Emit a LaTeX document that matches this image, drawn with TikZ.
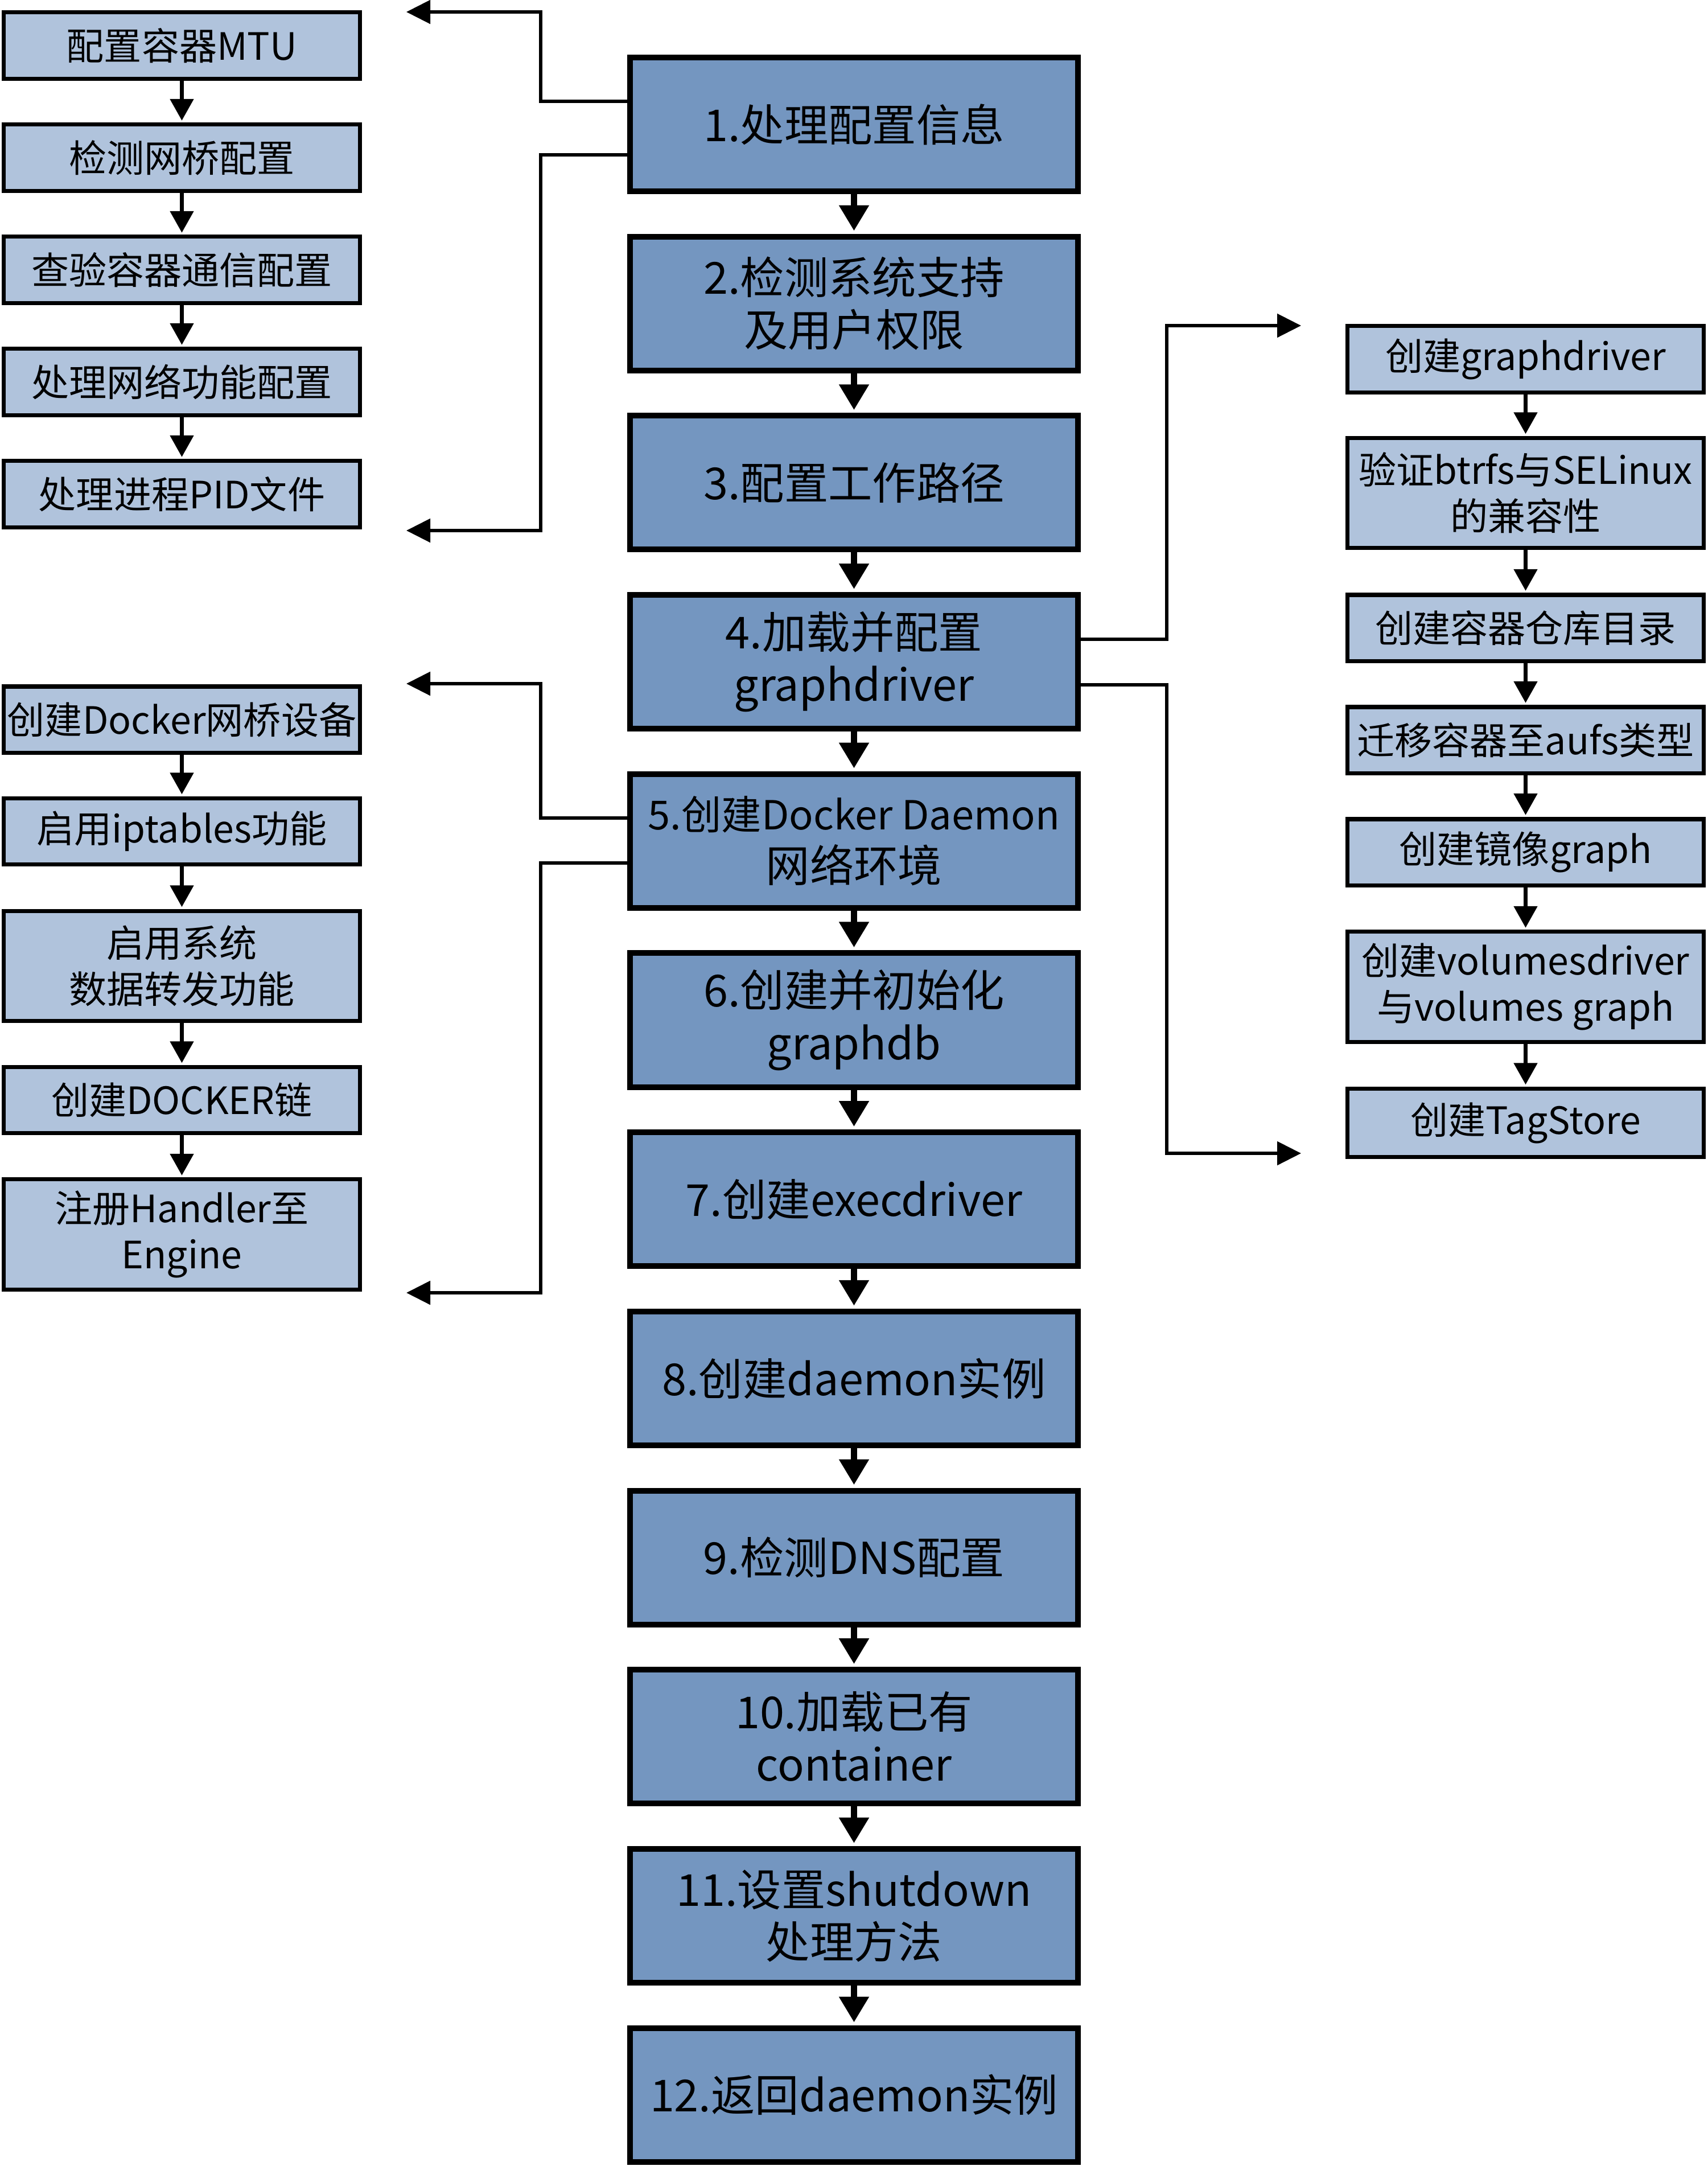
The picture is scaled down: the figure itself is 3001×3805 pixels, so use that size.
\documentclass[tikz,border=0pt]{standalone}
\usepackage{fontspec}
\setmainfont{Noto Sans CJK SC}
\usetikzlibrary{arrows.meta}
\definecolor{mainfill}{RGB}{116,150,192}
\definecolor{subfill}{RGB}{176,195,220}
\begin{document}
\begin{tikzpicture}[x=0.01cm,y=-0.01cm,
  mainbox/.style={draw=black, line width=2.85pt, fill=mainfill, minimum width=7.87cm, minimum height=2.35cm, align=center, font=\fontsize{22}{26.2}\selectfont, inner sep=0pt},
  subbox/.style={draw=black, line width=2pt, fill=subfill, minimum width=6.26cm, align=center, font=\fontsize{18.8}{23}\selectfont, inner sep=0pt},
  shortbox/.style={minimum height=1.16cm},
  tallbox/.style={minimum height=1.93cm},
  mainarrow/.style={line width=3.3pt, -{Triangle[length=0.45cm,width=0.5cm]}, shorten >=0.05cm},
  subarrow/.style={line width=2.2pt, -{Triangle[length=0.38cm,width=0.4cm]}, shorten >=0.035cm},
  conn/.style={line width=1.6pt, -{Triangle[length=0.42cm,width=0.41cm]}}
]
\useasboundingbox (0,0) rectangle (3001,3805);

% main column
\node[mainbox] (m1)  at (1500.5,218.5)  {1.处理配置信息};
\node[mainbox] (m2)  at (1500.5,533.2)  {2.检测系统支持\\及用户权限};
\node[mainbox] (m3)  at (1500.5,847.9)  {3.配置工作路径};
\node[mainbox] (m4)  at (1500.5,1162.6) {4.加载并配置\\graphdriver};
\node[mainbox, font=\fontsize{20}{26.2}\selectfont] (m5)  at (1500.5,1477.3) {5.创建Docker Daemon\\{\fontsize{22}{26.2}\selectfont 网络环境}};
\node[mainbox] (m6)  at (1500.5,1792.0) {6.创建并初始化\\graphdb};
\node[mainbox] (m7)  at (1500.5,2106.7) {7.创建execdriver};
\node[mainbox] (m8)  at (1500.5,2421.4) {8.创建daemon实例};
\node[mainbox] (m9)  at (1500.5,2736.1) {9.检测DNS配置};
\node[mainbox] (m10) at (1500.5,3050.8) {10.加载已有\\container};
\node[mainbox] (m11) at (1500.5,3365.5) {11.设置shutdown\\处理方法};
\node[mainbox] (m12) at (1500.5,3680.2) {12.返回daemon实例};
\foreach \a/\b in {m1/m2,m2/m3,m3/m4,m4/m5,m5/m6,m6/m7,m7/m8,m8/m9,m9/m10,m10/m11,m11/m12}
  \draw[mainarrow] (\a.south) -- (\b.north);

% left group 1
\node[subbox,shortbox] (a1) at (319.5,80)  {配置容器MTU};
\node[subbox,shortbox] (a2) at (319.5,277) {检测网桥配置};
\node[subbox,shortbox] (a3) at (319.5,474) {查验容器通信配置};
\node[subbox,shortbox] (a4) at (319.5,671) {处理网络功能配置};
\node[subbox,shortbox] (a5) at (319.5,868) {处理进程PID文件};
\foreach \a/\b in {a1/a2,a2/a3,a3/a4,a4/a5}
  \draw[subarrow] (\a.south) -- (\b.north);

% left group 2
\node[subbox,shortbox] (b1) at (319.5,1264)   {创建Docker网桥设备};
\node[subbox,shortbox] (b2) at (319.5,1460.5) {启用iptables功能};
\node[subbox,tallbox]  (b3) at (319.5,1697)   {启用系统\\数据转发功能};
\node[subbox,shortbox] (b4) at (319.5,1932.5) {创建DOCKER链};
\node[subbox,tallbox]  (b5) at (319.5,2168.5) {注册Handler至\\Engine};
\foreach \a/\b in {b1/b2,b2/b3,b3/b4,b4/b5}
  \draw[subarrow] (\a.south) -- (\b.north);

% right group
\node[subbox,shortbox] (c1) at (2680.5,631)    {创建graphdriver};
\node[subbox,tallbox]  (c2) at (2680.5,866)    {验证btrfs与SELinux\\的兼容性};
\node[subbox,shortbox] (c3) at (2680.5,1103)   {创建容器仓库目录};
\node[subbox,shortbox] (c4) at (2680.5,1300)   {迁移容器至aufs类型};
\node[subbox,shortbox] (c5) at (2680.5,1497)   {创建镜像graph};
\node[subbox,tallbox]  (c6) at (2680.5,1733.5) {创建volumesdriver\\与volumes graph};
\node[subbox,shortbox,minimum height=1.2cm] (c7) at (2680.5,1972.5) {创建TagStore};
\foreach \a/\b in {c1/c2,c2/c3,c3/c4,c4/c5,c5/c6,c6/c7}
  \draw[subarrow] (\a.south) -- (\b.north);

% bracket connectors
\coordinate (busL) at (950,0);
\coordinate (busR) at (2050,0);
\coordinate (h1) at (0,178);
\coordinate (h2) at (0,272);
\coordinate (h3) at (0,1437);
\coordinate (h4) at (0,1516);
\coordinate (h5) at (0,1123);
\coordinate (h6) at (0,1203);
\coordinate (t1) at (714,21);
\coordinate (t2) at (714,932);
\coordinate (t3) at (714,1201);
\coordinate (t4) at (714,2271);
\coordinate (t5) at (2286,572);
\coordinate (t6) at (2286,2026);

\draw[conn] (m1.west |- h1) -| (busL |- t1) -- (t1);
\draw[conn] (m1.west |- h2) -| (busL |- t2) -- (t2);
\draw[conn] (m5.west |- h3) -| (busL |- t3) -- (t3);
\draw[conn] (m5.west |- h4) -| (busL |- t4) -- (t4);
\draw[conn] (m4.east |- h5) -| (busR |- t5) -- (t5);
\draw[conn] (m4.east |- h6) -| (busR |- t6) -- (t6);
\end{tikzpicture}
\end{document}
